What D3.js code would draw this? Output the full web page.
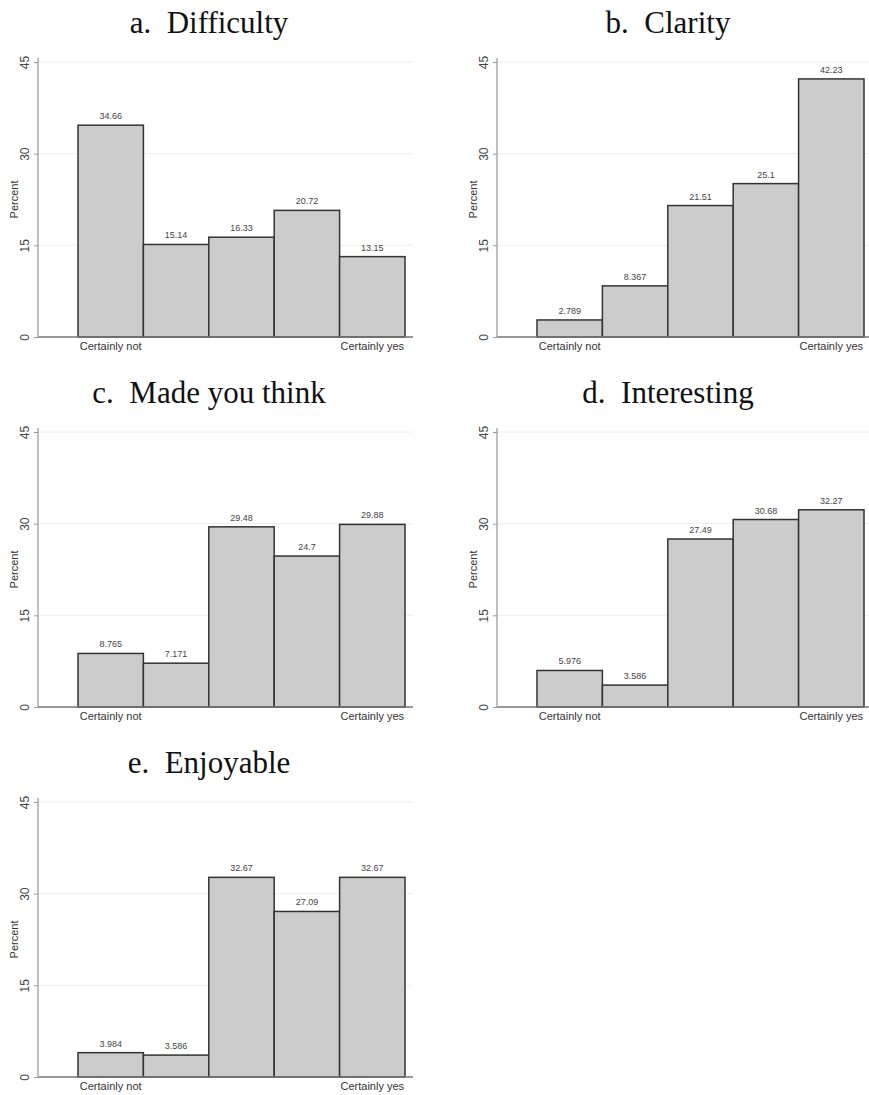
<!DOCTYPE html>
<html>
<head>
<meta charset="utf-8">
<script src="https://cdn.jsdelivr.net/npm/d3@7"></script>
<style>
  body { margin: 0; background: #fff; }
  svg { display: block; }
</style>
</head>
<body>
<div id="chart"></div>
<script>
var width = 869,
    height = 1095;

// data
var categories = ["1", "2", "3", "4", "5"];
var catLabels = ["Certainly not", "", "", "", "Certainly yes"];
var titles = ["a.  Difficulty", "b.  Clarity", "c.  Made you think", "d.  Interesting", "e.  Enjoyable"];
var difficulty = [34.66, 15.14, 16.33, 20.72, 13.15];
var clarity = [2.789, 8.367, 21.51, 25.1, 42.23];
var madeThink = [8.765, 7.171, 29.48, 24.7, 29.88];
var interesting = [5.976, 3.586, 27.49, 30.68, 32.27];
var enjoyable = [3.984, 3.586, 32.67, 27.09, 32.67];
var labelText = [
  ["34.66", "15.14", "16.33", "20.72", "13.15"],
  ["2.789", "8.367", "21.51", "25.1", "42.23"],
  ["8.765", "7.171", "29.48", "24.7", "29.88"],
  ["5.976", "3.586", "27.49", "30.68", "32.27"],
  ["3.984", "3.586", "32.67", "27.09", "32.67"]
];
var yTicks = [0, 15, 30, 45];

var series = [difficulty, clarity, madeThink, interesting, enjoyable];

var svg = d3.select("#chart").append("svg")
    .attr("width", width)
    .attr("height", height);

var x = d3.scaleBand()
    .domain(categories)
    .range([78, 405])
    .paddingInner(0);

var y = d3.scaleLinear()
    .domain([0, 45])
    .range([337, 62]);

var axisX = 38, gridEnd = 413;

series.forEach(function(vals, k) {
  var ox = (k % 2) * 459,
      oy = Math.floor(k / 2) * 370;
  var g = svg.append("g").attr("transform", "translate(" + ox + "," + oy + ")");

  g.append("text")
      .attr("x", 209)
      .attr("y", 33)
      .attr("text-anchor", "middle")
      .attr("font-family", "'Liberation Serif', serif")
      .attr("font-size", 31)
      .attr("fill", "#111")
      .style("white-space", "pre")
      .text(titles[k]);

  // grid
  g.append("g").selectAll("line")
    .data(yTicks.slice(1))
    .enter().append("line")
      .attr("x1", axisX)
      .attr("x2", gridEnd)
      .attr("y1", function(d) { return y(d); })
      .attr("y2", function(d) { return y(d); })
      .attr("stroke", "#eeeeee")
      .attr("stroke-width", 1);

  // bars
  g.append("g").selectAll("rect")
    .data(vals)
    .enter().append("rect")
      .attr("x", function(d, i) { return x(categories[i]); })
      .attr("y", function(d) { return y(d); })
      .attr("width", x.bandwidth())
      .attr("height", function(d) { return y(0) - y(d); })
      .attr("fill", "#cccccc")
      .attr("stroke", "#333")
      .attr("stroke-width", 1.5);

  g.append("g").selectAll("text")
    .data(vals)
    .enter().append("text")
      .attr("x", function(d, i) { return x(categories[i]) + x.bandwidth() / 2; })
      .attr("y", function(d) { return y(d) - 6; })
      .attr("text-anchor", "middle")
      .attr("font-family", "'Liberation Sans', Arial, sans-serif")
      .attr("font-size", 9)
      .attr("fill", "#444")
      .text(function(d, i) { return labelText[k][i]; });

  // x axis line
  g.append("line")
      .attr("x1", axisX)
      .attr("x2", gridEnd)
      .attr("y1", y(0))
      .attr("y2", y(0))
      .attr("stroke", "#777")
      .attr("stroke-width", 1.5);

  g.append("g").selectAll("text")
    .data(categories)
    .enter().append("text")
      .attr("x", function(d) { return x(d) + x.bandwidth() / 2; })
      .attr("y", y(0) + 13)
      .attr("text-anchor", "middle")
      .attr("font-family", "'Liberation Sans', Arial, sans-serif")
      .attr("font-size", 11)
      .attr("fill", "#333")
      .text(function(d, i) { return catLabels[i]; });

  // y axis
  var ya = g.append("g")
      .attr("transform", "translate(" + axisX + ",0)")
      .call(d3.axisLeft(y).tickValues(yTicks).tickSize(4).tickPadding(4));
  ya.select(".domain").attr("stroke", "#aaa").attr("stroke-width", 1.5)
      .attr("d", "M0," + y(0) + "V" + (y(45) - 4));
  ya.selectAll(".tick line").attr("stroke", "#999");
  ya.selectAll(".tick text")
      .attr("font-family", "'Liberation Sans', Arial, sans-serif")
      .attr("font-size", 12)
      .attr("fill", "#444")
      .attr("x", null).attr("dy", null)
      .attr("text-anchor", "middle")
      .attr("transform", "translate(-13,0) rotate(-90)")
      .attr("dy", "0.35em");

  g.append("text")
      .attr("transform", "translate(14," + ((y(0) + y(45)) / 2) + ") rotate(-90)")
      .attr("text-anchor", "middle")
      .attr("dy", "0.35em")
      .attr("font-family", "'Liberation Sans', Arial, sans-serif")
      .attr("font-size", 11)
      .attr("fill", "#333")
      .text("Percent");
});
</script>
</body>
</html>
